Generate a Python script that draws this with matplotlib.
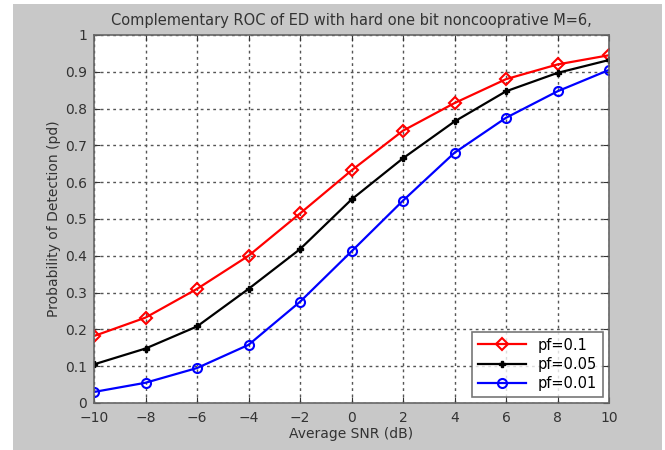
import matplotlib
matplotlib.use("Agg")
import matplotlib.pyplot as plt
from matplotlib.patches import Rectangle

snr = [-10, -8, -6, -4, -2, 0, 2, 4, 6, 8, 10]
pd_01 = [0.182, 0.232, 0.310, 0.400, 0.515, 0.632, 0.740, 0.815, 0.880, 0.920, 0.945]
pd_005 = [0.105, 0.148, 0.208, 0.310, 0.418, 0.553, 0.665, 0.765, 0.847, 0.897, 0.932]
pd_001 = [0.030, 0.055, 0.095, 0.158, 0.275, 0.412, 0.550, 0.680, 0.775, 0.847, 0.905]
labels = ["pf=0.1", "pf=0.05", "pf=0.01"]

fig = plt.figure(figsize=(6.65, 4.5), dpi=100)
fig.patch.set_facecolor("white")
fig.patches.append(Rectangle((13/665, 0), 649/665, 446/450, transform=fig.transFigure,
                             facecolor="#c8c8c8", edgecolor="none", zorder=-10))
ax = fig.add_axes([94/665, 1-403/450, 515/665, 368/450])
ax.set_facecolor("white")

ax.plot(snr, pd_01, color="red", lw=1.6, marker="D", ms=6, mfc="none", mew=1.5, label=labels[0])
ax.plot(snr, pd_005, color="black", lw=1.6, marker="P", ms=5, mfc="black", label=labels[1])
ax.plot(snr, pd_001, color="blue", lw=1.6, marker="o", ms=6.5, mfc="none", mew=1.5, label=labels[2])

ax.set_xlim(-10, 10)
ax.set_ylim(0, 1)
ax.set_xticks(snr)
ax.set_yticks([0, 0.1, 0.2, 0.3, 0.4, 0.5, 0.6, 0.7, 0.8, 0.9, 1])
ax.set_yticklabels(["0", "0.1", "0.2", "0.3", "0.4", "0.5", "0.6", "0.7", "0.8", "0.9", "1"])
ax.grid(True, color="#555555", linestyle=(0, (2, 2.5)), linewidth=1)
ax.tick_params(direction="in", labelsize=10, colors="#333333", length=4, top=True, right=True)
ax.tick_params(axis="x", pad=6)
ax.tick_params(axis="y", pad=5)
for s in ax.spines.values():
    s.set_color("#666666")
    s.set_linewidth(1.2)

ax.set_xlabel("Average SNR (dB)", fontsize=10, color="#333333", labelpad=1)
ax.set_ylabel("Probability of Detection (pd)", fontsize=10, color="#333333", labelpad=3)
ax.set_title("Complementary ROC of ED with hard one bit noncooprative M=6,",
             fontsize=10.5, color="#333333", pad=7)

leg = ax.legend(loc="lower right", fontsize=10.5, frameon=True, fancybox=False,
                edgecolor="#555555", borderaxespad=0.4, handlelength=3.3,
                labelspacing=0.3)
leg.get_frame().set_linewidth(1.2)

fig.savefig("out.png", dpi=100, facecolor=fig.get_facecolor())
